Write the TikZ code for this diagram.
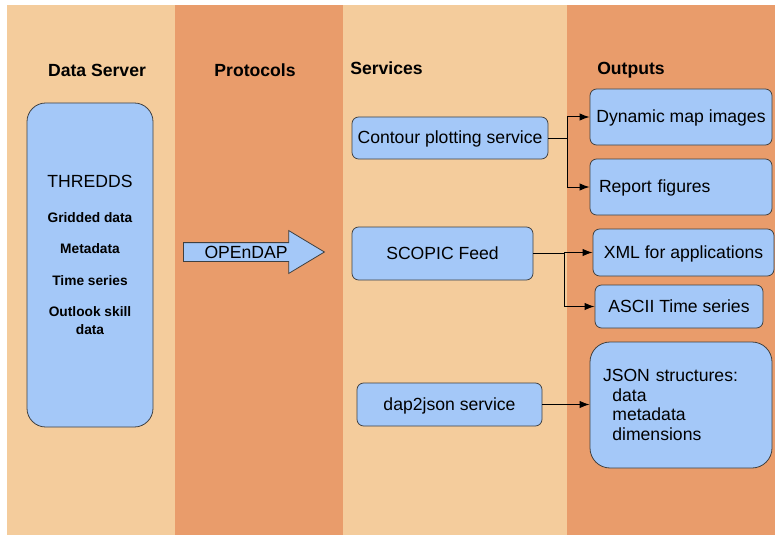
\documentclass[tikz,border=0pt]{standalone}
\usepackage{fontspec}
\setmainfont{Liberation Sans}
\usepackage{xcolor}
\usetikzlibrary{calc,shapes.arrows,arrows.meta}

\definecolor{bandlight}{HTML}{F4CC9C}
\definecolor{banddark}{HTML}{E99C6B}
\definecolor{boxblue}{HTML}{A4C8F8}
\definecolor{boxline}{HTML}{404040}
\newcommand{\mainsize}{\fontsize{13.2}{15.8}\selectfont}
\newcommand{\smallsize}{\fontsize{10.3}{13.5}\selectfont}

\begin{document}
\begin{tikzpicture}[x=0.75pt,y=-0.75pt]
        \tikzstyle{every node}=[font=\mainsize, inner sep=0pt]
        \tikzstyle{head}=[font=\mainsize\bfseries]
        \tikzstyle{box}=[draw=boxline, line width=0.6pt, fill=boxblue, rounded corners=5pt,
                         text height=1em, text depth=0.15em]
        \tikzstyle{item}=[font=\smallsize\bfseries, align=center]
        \tikzstyle{link}=[draw, line width=0.75pt, -{Latex[length=7.5pt,width=5.5pt]}]

            \useasboundingbox (0,0) rectangle (775,535);
            \fill[white] (0,0) rectangle (775,535);

            % columns
            \fill[bandlight] (7,5) rectangle (175,535);
            \fill[banddark] (175,5) rectangle (343,535);
            \fill[bandlight] (343,5) rectangle (567,535);
            \fill[banddark] (567,5) rectangle (775,535);

            \node[head] (hserver) at (97,70) {Data Server};
            \node[head] (hproto) at (255,70) {Protocols};
            \node[head, anchor=west] (hserv) at (350,68) {Services};
            \node[head, anchor=west] (hout) at (597,70) {Outputs};

            % data server
            \node[box, rounded corners=14pt, minimum width=94.5pt, minimum height=243pt] (server) at (90,265) {};
            \node (thredds) at (90,181) {THREDDS};
            \node[item] (gridded) at ($(thredds)+(0,37)$) {Gridded data};
            \node[item] (meta) at ($(gridded)+(0,31)$) {Metadata};
            \node[item] (tseries) at ($(meta)+(0,32)$) {Time series};
            \node[item] (skill) at ($(tseries)+(0,40)$) {Outlook skill\\data};

            % protocol
            \node[single arrow, draw=boxline, line width=0.6pt, fill=boxblue,
                  minimum height=105.75pt, minimum width=31.5pt,
                  single arrow head extend=9pt, single arrow tip angle=62,
                  text height=11.5pt, text depth=2pt, anchor=tail] (opendap) at (183,252) {OPEnDAP};

            % services
            \node[box, minimum width=147pt, minimum height=31.5pt] (contour) at (450,138) {Contour plotting service};
            \node[box, minimum width=135.75pt, minimum height=39.75pt] (scopic) at (442.5,253.5) {SCOPIC Feed};
            \node[box, minimum width=138.75pt, minimum height=32.25pt] (dapjson) at (449.5,404.5) {dap2json service};

            % outputs
            \node[box, minimum width=136.5pt, minimum height=42pt] (dynmap) at (681,117) {Dynamic map images};
            \node[box, minimum height=42pt, text width=123pt, inner xsep=6.75pt, align=left] (report) at (681,187) {Report figures};
            \node[box, minimum width=135.75pt, minimum height=35.25pt] (xml) at (683.5,252.5) {XML for applications};
            \node[box, minimum width=126pt, minimum height=32.25pt] (ascii) at (679,306.5) {ASCII Time series};
            \node[box, rounded corners=15pt, minimum height=94.5pt, text width=117pt, inner xsep=9.75pt, align=left,
                  text height=, text depth=, font=\fontsize{13.2}{14.6}\selectfont] (json) at (681,405)
                  {JSON structures:\\\hspace*{7pt}data\\\hspace*{7pt}metadata\\\hspace*{7pt}dimensions};

            \coordinate (split1) at (567,138);
            \coordinate (split2) at (564,253.5);

            \draw[link] (contour.east) -- (split1) |- (dynmap.west);
            \draw[link] (split1) |- (report.west);
            \draw[link] (scopic.east) -- (split2) |- (xml.west);
            \draw[link] (split2) |- (ascii.west);
            \draw[link] (dapjson.east) -- (dapjson.east -| json.west);

        \end{tikzpicture}
\end{document}
